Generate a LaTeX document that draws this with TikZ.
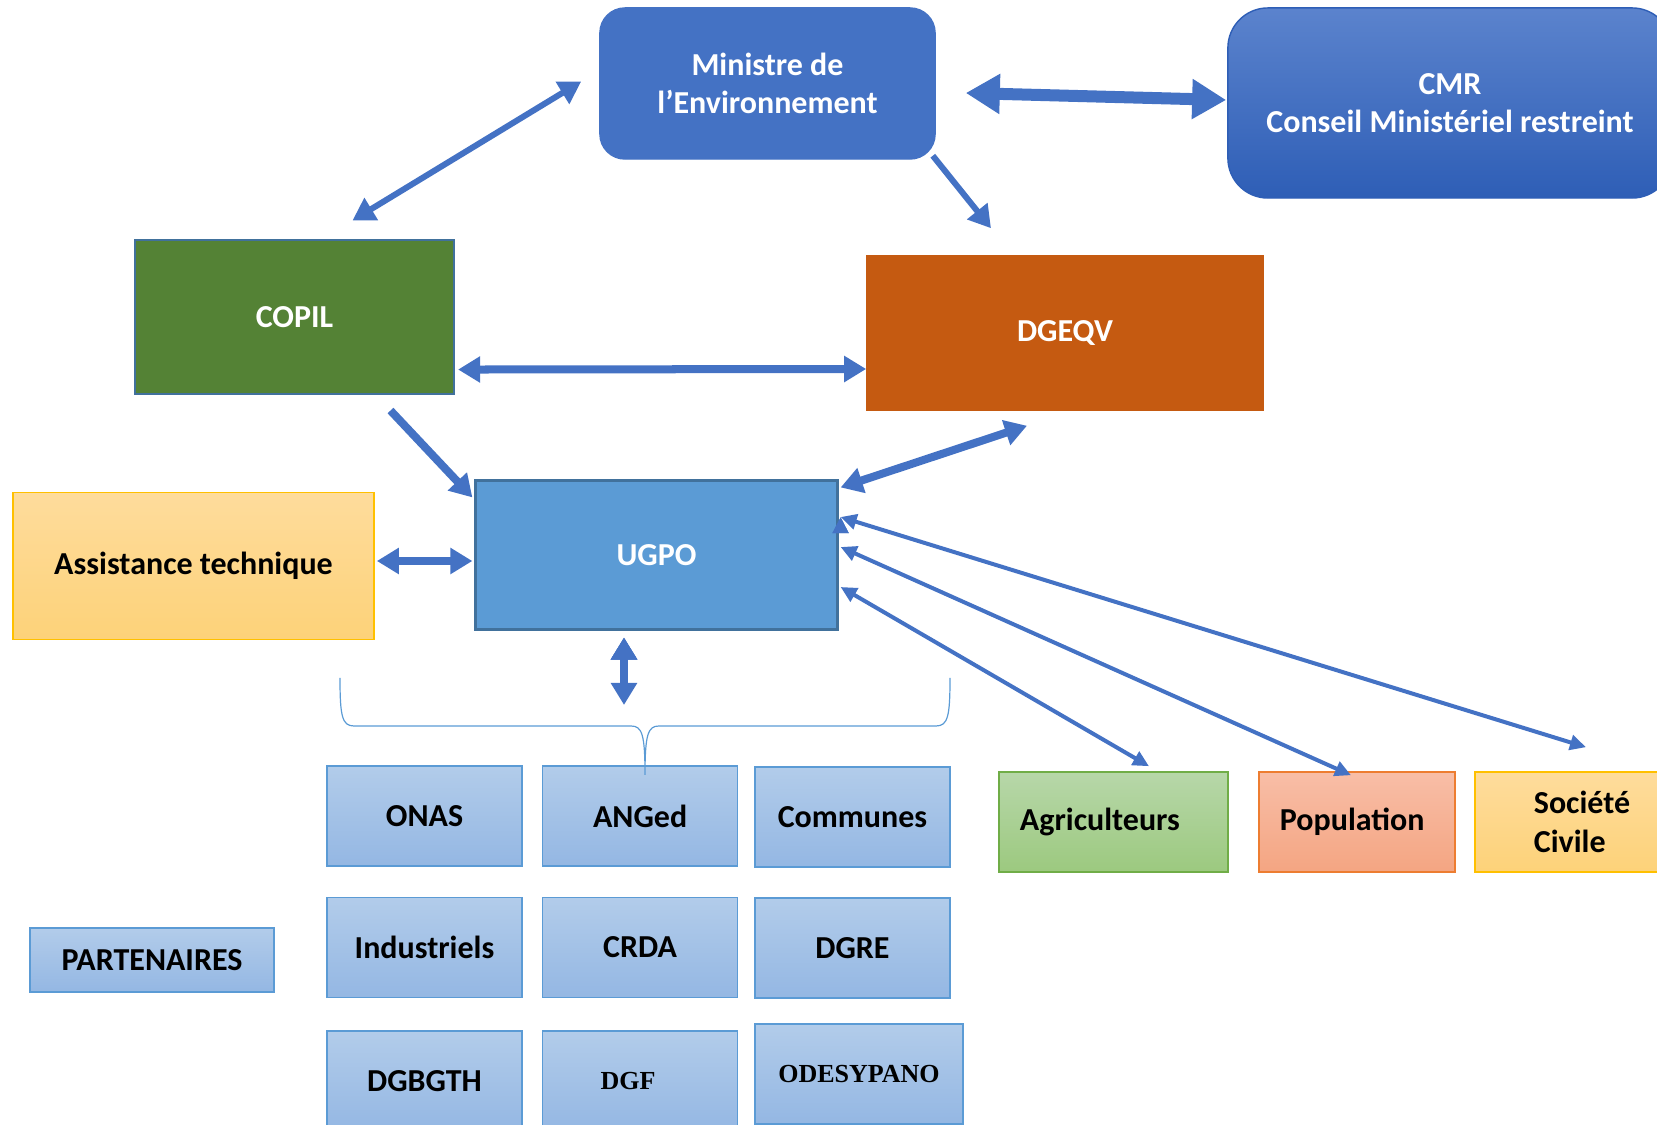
\documentclass[tikz,border=0pt]{standalone}
\usepackage{fontspec}
\setmainfont{Carlito}
\newfontfamily\seriffont{Liberation Serif}
\usetikzlibrary{positioning,arrows.meta}
\definecolor{fleche}{HTML}{4472C4}
\definecolor{ministrebleu}{HTML}{4472C4}
\definecolor{cmrhaut}{HTML}{5B83CD}
\definecolor{cmrbas}{HTML}{2E5EB6}
\definecolor{copilvert}{HTML}{548235}
\definecolor{bordbleu}{HTML}{41719C}
\definecolor{dgeqvorange}{HTML}{C55A11}
\definecolor{ugpobleu}{HTML}{5B9BD5}
\definecolor{jaunehaut}{HTML}{FEDC9C}
\definecolor{jaunebas}{HTML}{FDD279}
\definecolor{jaunebord}{HTML}{FFC000}
\definecolor{parthaut}{HTML}{B2CCEA}
\definecolor{partbas}{HTML}{94B7E3}
\definecolor{verthaut}{HTML}{B7D7A9}
\definecolor{vertbas}{HTML}{9CC97F}
\definecolor{vertbord}{HTML}{70AD47}
\definecolor{rosehaut}{HTML}{F8BEA7}
\definecolor{rosebas}{HTML}{F4A582}
\definecolor{rosebord}{HTML}{ED7D31}
\tikzset{boite/.style={draw,inner sep=0pt,align=center,font=\fontsize{9.1}{10.9}\selectfont\bfseries},
	blanc/.style={boite,text=white},
	partenaire/.style={boite,draw=ugpobleu,line width=0.015cm,top color=parthaut,bottom color=partbas,minimum width=1.95cm,minimum height=1cm},
	jaune/.style={boite,draw=jaunebord,line width=0.015cm,top color=jaunehaut,bottom color=jaunebas},
	accolade/.style={draw=ugpobleu,line width=0.012cm},
	grosse/.tip={Triangle[length=0.22cm,width=0.25cm]},
	enorme/.tip={Triangle[length=0.34cm,width=0.38cm]},
	fine/.tip={Triangle[length=0.16cm,width=0.15cm]},
}
\begin{document}
\begin{tikzpicture}[x=0.01cm,y=-0.01cm]
				\useasboundingbox (0,0) rectangle (1657,1125);
				\clip (0,0) rectangle (1657,1125);
				
				\node[blanc,fill=ministrebleu,draw=ministrebleu,rounded corners=0.25cm,minimum width=3.35cm,minimum height=1.51cm] (ministre) at (767.5,83.5) {Ministre de\\l’Environnement};
				\node[blanc,top color=cmrhaut,bottom color=cmrbas,draw=cmrbas,rounded corners=0.4cm,minimum width=4.44cm,minimum height=1.9cm] (cmr) at (1450,103) {CMR\\Conseil Ministériel restreint};
				\node[blanc,fill=copilvert,draw=bordbleu,line width=0.02cm,minimum width=3.19cm,minimum height=1.53cm] (copil) at (294.5,317) {COPIL};
				\node[blanc,fill=dgeqvorange,draw=dgeqvorange,minimum width=3.96cm,minimum height=1.54cm] (dgeqv) at (1065,333) {DGEQV};
				\node[blanc,fill=ugpobleu,draw=bordbleu,line width=0.03cm,minimum width=3.61cm,minimum height=1.48cm] (ugpo) at (656.5,555) {UGPO};
				\node[jaune,minimum width=3.61cm,minimum height=1.47cm] (assist) at (193.5,566) {Assistance technique};
				
				% partenaires
				\node[partenaire] (onas) at (424.5,816) {ONAS};
				\node[partenaire] (anged) [right=0.19cm of onas] {ANGed};
				\node[partenaire] (communes) at (852.5,817) {Communes};
				\node[partenaire] (industriels) [below=0.3cm of onas] {Industriels};
				\node[partenaire] (crda) [right=0.19cm of industriels] {CRDA};
				\node[partenaire] (dgre) at (852.5,948) {DGRE};
				\node[partenaire] (dgbgth) [below=0.32cm of industriels] {DGBGTH};
				\node[partenaire,font=\fontsize{7.4}{9}\selectfont\bfseries\seriffont,text width=0.79cm,align=left] (dgf) [right=0.19cm of dgbgth] {DGF};
				\node[partenaire,font=\fontsize{7.4}{9}\selectfont\bfseries\seriffont,minimum width=2.08cm] (odesypano) at (859,1074) {ODESYPANO};
				\node[partenaire,minimum width=2.44cm,minimum height=0.64cm] (partenaires) at (152,960) {PARTENAIRES};
				
				\node[boite,draw=vertbord,line width=0.015cm,top color=verthaut,bottom color=vertbas,minimum width=2.29cm,minimum height=1cm,text width=1.87cm,align=left] (agri) at (1113.5,822) {Agriculteurs};
				\node[boite,draw=rosebord,line width=0.015cm,top color=rosehaut,bottom color=rosebas,minimum width=1.96cm,minimum height=1cm,text width=1.54cm,align=left] (popu) at (1357,822) {Population};
				\node[jaune,align=left,minimum width=2.14cm,minimum height=1cm] (societe) at (1582,822) {Société\\Civile};
				
				% accolade
				\coordinate (accol) at (624,705);
				\draw[accolade] (340,678) .. controls (340,716) and (342,726) .. (354,726) -- (631,726)
					.. controls (642,726) and (645,734) .. (645,775)
					.. controls (645,734) and (648,726) .. (659,726) -- (936,726)
					.. controls (948,726) and (950,716) .. (950,678);
				
				\path[draw,fleche,line width=0.08cm,grosse-grosse]
				([shift={(-18,-2)}]ministre.west) edge[line width=0.06cm] ([shift={(58,-19)}]copil.north)
				([shift={(30,9.5)}]ministre.east) edge[line width=0.12cm,enorme-enorme] ([shift={(-1,-3)}]cmr.west)
				([shift={(-3,-4)}]ministre.south east) edge[line width=0.06cm,-grosse] ([shift={(-74,-27)}]dgeqv.north)
				([shift={(3,-25)}]copil.south east) edge ([shift={(0,36)}]dgeqv.west)
				([shift={(96,16)}]copil.south) edge[-grosse] ([shift={(-2,18)}]ugpo.north west)
				([shift={(-38,15)}]dgeqv.south) edge ([shift={(2,8)}]ugpo.north east)
				([shift={(2,-5)}]assist.east) edge ([shift={(-2,6)}]ugpo.west)
				([shift={(-32.5,7)}]ugpo.south) edge (accol);
				
				\path[draw,fleche,line width=0.04cm,fine-fine]
				([shift={(2,32)}]ugpo.east) edge ([shift={(35.5,-5)}]agri.north)
				([shift={(2,-8)}]ugpo.east) edge ([shift={(-6,4)}]popu.north)
				([shift={(2,-38)}]ugpo.east) edge ([shift={(4,-24)}]societe.north);
				
			\end{tikzpicture}
\end{document}
